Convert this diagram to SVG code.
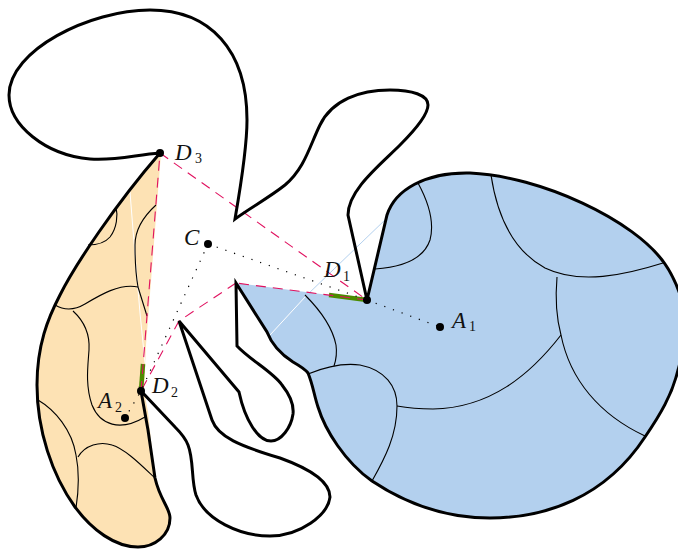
<svg xmlns="http://www.w3.org/2000/svg" width="678" height="549" viewBox="0 0 678 549">
<style>
.b{fill:none;stroke:#000;stroke-width:3;stroke-linejoin:miter;stroke-linecap:round}
.t{fill:none;stroke:#000;stroke-width:1.1}
.w{fill:none;stroke:#fff;stroke-width:1}
.l{fill:none;stroke:#b3d0ee;stroke-width:1}
.d{fill:none;stroke:#e0115f;stroke-width:1.1;stroke-dasharray:10 7}
.o{fill:none;stroke:#000;stroke-width:1.2;stroke-dasharray:1.2 8}
.g{fill:none;stroke:#4b8b00;stroke-width:4.5}
.p{fill:#000}
text{font-family:"Liberation Serif",serif;font-style:italic;font-size:23px;fill:#111}
.s{font-size:14px;font-style:normal}
</style>
<g id="regions">
<path class="l" d="M387,218 L306,296"/>
<path id="blue-region" fill="#b3d0ee" d="M367,300 L387,215 C395,190 425,172 470,173 C540,176 635,220 665,264 C672,274 678,288 682,300 C688,320 684,350 678,370 C672,395 660,415 645,437 C605,498 545,518 490,518 C445,518 405,503 372,481 C345,462 325,430 318,407 C314,395 313,385 308,373 C305,369 300,366 293,362 C282,355 272,345 267,332 L236,283 Z"/>
<path id="orange-region" fill="#fde2b4" d="M161,153 L146,345 L144,391 L148,412 L155,478 C160,500 170,508 170,518 C170,535 155,547 138,547 C115,547 92,530 75,507 C52,475 37,430 37,385 C37,345 48,318 60,295 C75,265 115,205 160,153 Z"/>
<path class="w" d="M306,296 L270,335"/>
<path class="w" d="M130,192 L133,230 L140,313 L145,363"/>
</g>
<g id="inner-curves">
<path class="t" d="M418,183 C430,205 434,225 430,240 C424,258 405,267 375,269"/>
<path class="t" d="M491,175 C497,215 512,250 545,268 C580,285 625,275 663,263"/>
<path class="t" d="M557,277 C555,300 557,320 561,335 C570,380 600,415 645,436"/>
<path class="t" d="M561,335 C530,375 490,408 433,409 C420,409 408,408 397,406"/>
<path class="t" d="M308,374 C325,367 345,363 360,365 C385,370 397,386 397,406 C397,435 385,458 372,481"/>
<path class="t" d="M305,295 C322,312 333,330 336,345 C337,352 336,360 334,366"/>
<path class="t" d="M116,207 C118,215 117,228 110,237 C104,244 96,245 88,245"/>
<path class="t" d="M156,205 C145,215 135,228 135,245 C135,260 135,270 138,287 L147,316"/>
<path class="t" d="M138,287 C120,283 100,295 85,304 C75,310 65,311 55,305"/>
<path class="t" d="M73,311 C85,322 90,335 89,350 C88,365 85,385 92,405 C100,425 120,432 145,417"/>
<path class="t" d="M38,400 C55,410 72,430 76,455 C80,475 78,495 76,508"/>
<path class="t" d="M78,457 C85,445 100,441 112,445 C125,449 140,464 155,478"/>
</g>
<g id="connectors">
<path class="g" d="M329,295 L367,300"/>
<path class="g" d="M143,364 L141,391"/>
<path class="d" d="M160,153 L367,300"/>
<path class="d" d="M367,300 L236,283"/>
<path class="d" d="M236,283 L179,321 L141,391"/>
<path class="d" d="M141,391 L160,153"/>
<path class="o" d="M367,300 L440,327"/>
<path class="o" d="M208,244 L367,300"/>
<path class="o" d="M208,244 L141,391 L125,418"/>
</g>
<g id="boundary">
<path class="b" d="M160,153 C135,155 115,161 90,159 C45,155 9,125 9,95 C9,50 90,10 150,10 C210,10 247,50 247,120 C247,150 240,190 235,219 C250,208 270,197 285,185 C305,168 310,145 320,125 C332,100 360,90 390,90 C412,90 428,95 428,105 C428,115 415,130 400,145 C380,165 348,190 348,215 L367,300 L387,215 C395,190 425,172 470,173 C540,176 635,220 665,264 C672,274 678,288 682,300 C688,320 684,350 678,370 C672,395 660,415 645,437 C605,498 545,518 490,518 C445,518 405,503 372,481 C345,462 325,430 318,407 C314,395 313,385 308,373 C305,369 300,366 293,362 C282,355 272,345 267,332 L236,283 L237,346 C250,360 273,372 282,385 C290,395 294,405 293,414 C291,428 281,441 271,441 C258,441 245,420 239,392 L179,321 L212,420 C218,437 240,446 280,458 C305,467 330,480 330,497 C328,515 300,536 270,536 C240,536 205,520 196,495 C191,480 194,460 188,445 C185,437 180,432 175,427 L141,391 L148,430 L155,478 C160,500 170,508 170,518 C170,535 155,547 138,547 C115,547 92,530 75,507 C52,475 37,430 37,385 C37,345 48,318 60,295 C75,265 115,205 160,153 Z"/>
</g>
<g id="D3"><circle class="p" cx="160" cy="153" r="4"/><text x="175" y="160">D</text><text class="s" x="195" y="163">3</text></g>
<g id="D1"><circle class="p" cx="367" cy="300" r="4"/><text x="324" y="277">D</text><text class="s" x="343" y="281">1</text></g>
<g id="D2"><circle class="p" cx="141" cy="391" r="4"/><text x="152" y="393">D</text><text class="s" x="171" y="397">2</text></g>
<g id="C"><circle class="p" cx="208" cy="244" r="4"/><text x="184" y="245">C</text></g>
<g id="A1"><circle class="p" cx="440" cy="327" r="4"/><text x="452" y="328">A</text><text class="s" x="469" y="331">1</text></g>
<g id="A2"><circle class="p" cx="125" cy="418" r="4"/><text x="98" y="408">A</text><text class="s" x="115" y="412">2</text></g>
</svg>
